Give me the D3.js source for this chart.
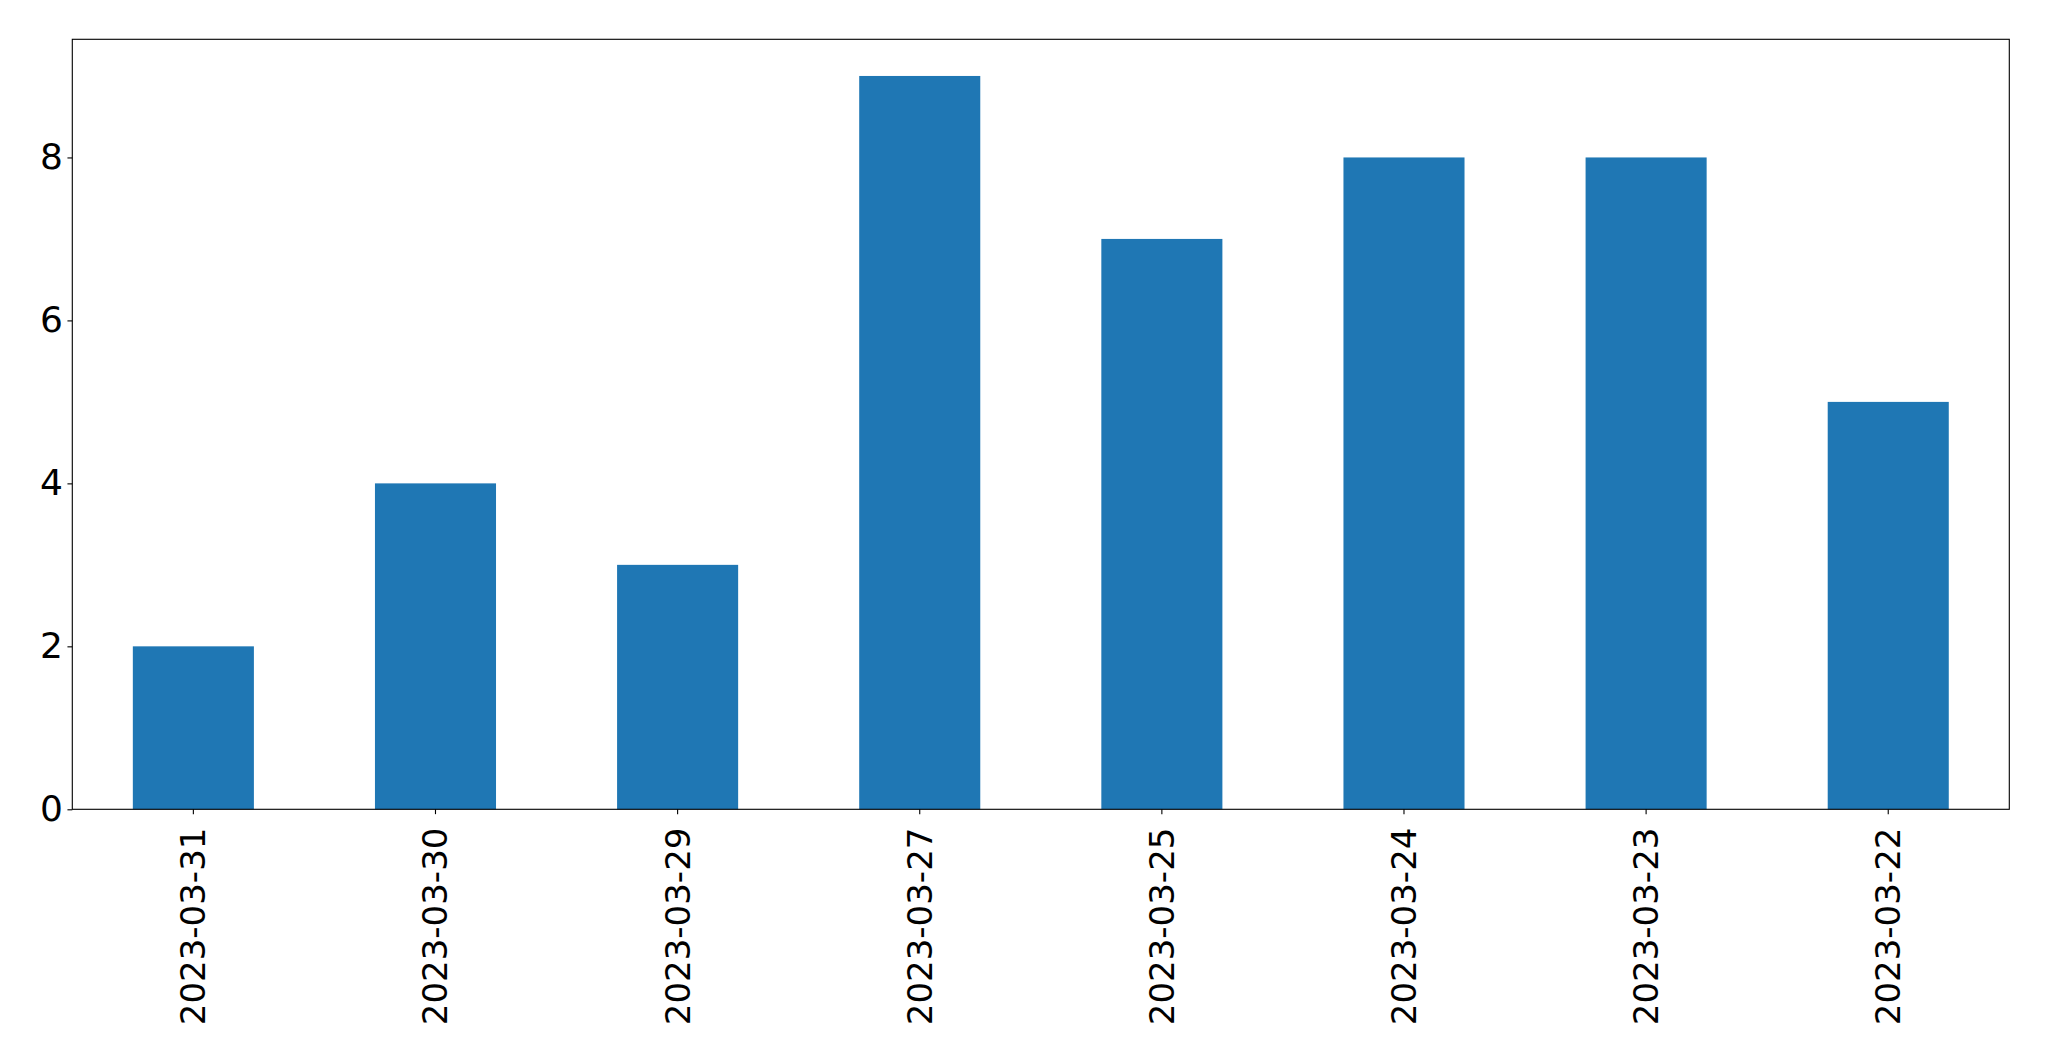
<!DOCTYPE html>
<html>
<head>
<meta charset="utf-8">
<script src="https://d3js.org/d3.v7.min.js"></script>
<style>
html,body{margin:0;padding:0;background:#fff;}
svg{display:block;}
</style>
</head>
<body>
<script>
const categories = ["2023-03-31","2023-03-30","2023-03-29","2023-03-27","2023-03-25","2023-03-24","2023-03-23","2023-03-22"];
const values = [2,4,3,9,7,8,8,5];
const yTicks = [0,2,4,6,8];

(function () {
const W = 2049, H = 1061;
const pLeft = 72.3, pRight = 2009.3, pTop = 39.3, pBottom = 809.3;
const xFont = 34, yFont = 36;
const tickLen = 4.86, pad = 4.5, lw = 1.11;

const svg = d3.select("body").append("svg").attr("width", W).attr("height", H);

const x = d3.scaleBand().domain(categories).range([pLeft, pRight]).paddingInner(0.5).paddingOuter(0.25);
const y = d3.scaleLinear().domain([0, d3.max(values) * 1.05]).range([pBottom, pTop]);

svg.append("g").selectAll("rect").data(values).join("rect")
  .attr("x", (d, i) => x(categories[i]))
  .attr("width", x.bandwidth())
  .attr("y", d => y(d))
  .attr("height", d => y(0) - y(d))
  .attr("fill", "#1f77b4");

const yAxis = svg.append("g").attr("transform", `translate(${pLeft},0)`)
  .call(d3.axisLeft(y).tickValues(yTicks).tickSize(tickLen).tickPadding(pad).tickFormat(d3.format("d")));
yAxis.select(".domain").remove();
yAxis.selectAll("line").attr("stroke", "#000").attr("stroke-width", lw);
yAxis.selectAll("text").attr("font-family", "DejaVu Sans").attr("font-size", yFont).attr("fill", "#000");

const xAxis = svg.append("g").attr("transform", `translate(0,${pBottom})`)
  .call(d3.axisBottom(x).tickSize(tickLen).tickPadding(pad));
xAxis.select(".domain").remove();
xAxis.selectAll("line").attr("stroke", "#000").attr("stroke-width", lw);
xAxis.selectAll("text")
  .attr("font-family", "DejaVu Sans").attr("font-size", xFont).attr("fill", "#000")
  .attr("y", 0).attr("dy", null)
  .attr("text-anchor", "end")
  .attr("dominant-baseline", "central")
  .attr("transform", "translate(0,18.3) rotate(-90)");

svg.append("rect").attr("x", pLeft).attr("y", pTop).attr("width", pRight - pLeft).attr("height", pBottom - pTop)
  .attr("fill", "none").attr("stroke", "#000").attr("stroke-width", lw);
})();
</script>
</body>
</html>
